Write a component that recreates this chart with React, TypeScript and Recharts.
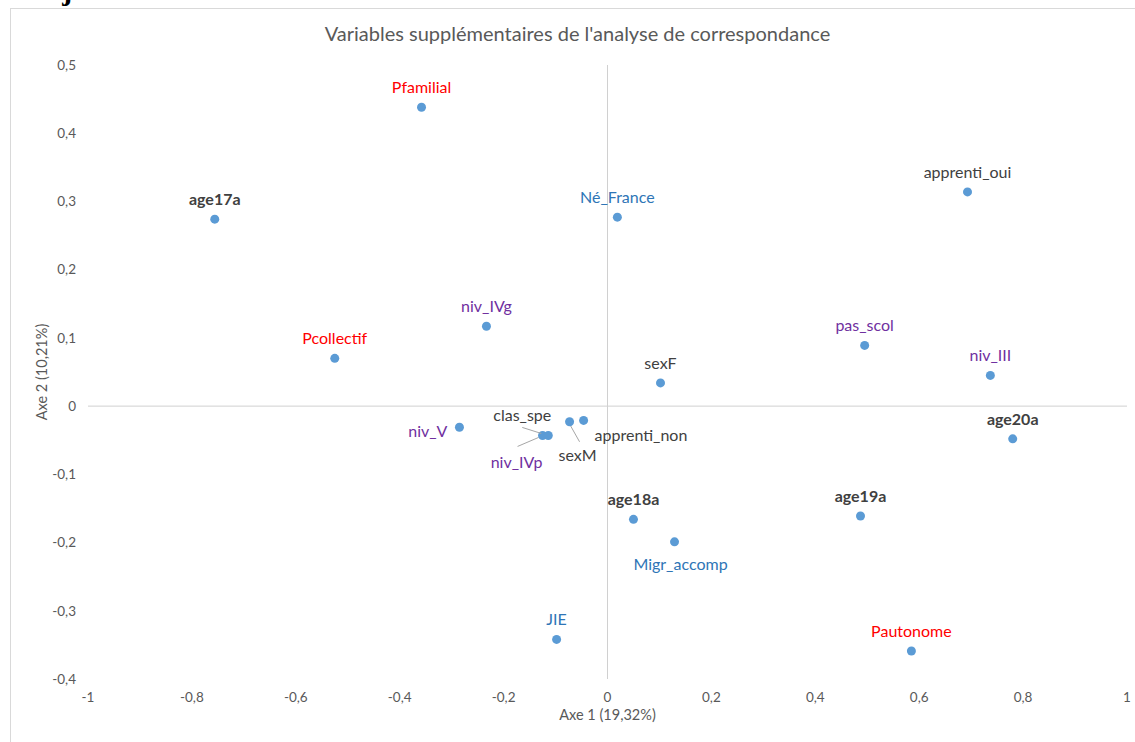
import React from 'react';
import { ScatterChart, Scatter, XAxis, YAxis, ReferenceLine, Label } from 'recharts';

// modalités supplémentaires (coordonnées sur les axes 1 et 2)
const names = [
  'Pfamilial', 'age17a', 'Né_France', 'apprenti_oui', 'niv_IVg', 'Pcollectif',
  'pas_scol', 'niv_III', 'sexF', 'niv_V', 'niv_IVp', 'clas_spe', 'sexM',
  'apprenti_non', 'age20a', 'age18a', 'age19a', 'Migr_accomp', 'JIE', 'Pautonome',
];
const axe1 = [
  -0.358, -0.756, 0.019, 0.693, -0.233, -0.525,
  0.495, 0.737, 0.102, -0.285, -0.125, -0.114, -0.073,
  -0.046, 0.78, 0.05, 0.487, 0.129, -0.098, 0.585,
];
const axe2 = [
  0.438, 0.274, 0.277, 0.314, 0.117, 0.07,
  0.089, 0.045, 0.034, -0.031, -0.043, -0.043, -0.023,
  -0.021, -0.048, -0.166, -0.161, -0.199, -0.342, -0.359,
];
const groupes = [
  'placement', 'age', 'origine', 'autre', 'niveau', 'placement',
  'niveau', 'niveau', 'autre', 'niveau', 'niveau', 'autre', 'autre',
  'autre', 'age', 'age', 'age', 'origine', 'origine', 'placement',
];

const xTicks = [-1, -0.8, -0.6, -0.4, -0.2, 0, 0.2, 0.4, 0.6, 0.8, 1];
const yTicks = [-0.4, -0.3, -0.2, -0.1, 0, 0.1, 0.2, 0.3, 0.4, 0.5];

const data = names.map((name, i) => ({ name, x: axe1[i], y: axe2[i], groupe: groupes[i] }));

const couleurs: Record<string, string> = {
  placement: '#ff0000',
  origine: '#2e75b6',
  niveau: '#7030a0',
  autre: '#404040',
  age: '#404040',
};

type Place = { dx: number; dy: number; anchor?: 'start' | 'middle' | 'end'; leader?: number[] };
const above: Place = { dx: 0, dy: -14 };
const placements: Record<string, Place> = {
  niv_V: { dx: -12, dy: 10, anchor: 'end' },
  clas_spe: { dx: -26, dy: -14, leader: [-26, -8, -7, -2] },
  niv_IVp: { dx: -26, dy: 33, leader: [-25, 11, -4, 2] },
  sexM: { dx: 8, dy: 39, leader: [10, 20, 1, 4] },
  apprenti_non: { dx: 11, dy: 21, anchor: 'start' },
  Migr_accomp: { dx: 6, dy: 28 },
};

const fmt = (v: number) => String(Number(v.toFixed(1))).replace('.', ',').replace(/^-0$/, '0');

const font = 'Lato, Carlito, Calibri, sans-serif';

const Point = (props: any) => {
  const { cx, cy, payload } = props;
  const p = placements[payload.name] ?? above;
  const bold = payload.groupe === 'age';
  return (
    <g>
      {p.leader && (
        <line
          x1={cx + p.leader[0]} y1={cy + p.leader[1]}
          x2={cx + p.leader[2]} y2={cy + p.leader[3]}
          stroke="#a6a6a6" strokeWidth={1}
        />
      )}
      <circle cx={cx} cy={cy} r={4.5} fill="#5b9bd5" />
      <text
        x={cx + p.dx}
        y={cy + p.dy}
        textAnchor={p.anchor ?? 'middle'}
        fill={couleurs[payload.groupe]}
        fontWeight={bold ? 700 : 400}
        fontSize={16}
        fontFamily={font}
      >
        {payload.name}
      </text>
    </g>
  );
};

export default function App() {
  return (
    <div style={{ position: 'absolute', left: 0, top: 0, width: 1135, height: 742, overflow: 'hidden', background: '#fff' }}>
      <svg width={300} height={12} style={{ position: 'absolute', left: 0, top: 0 }}>
        <text x={13} y={0} fontFamily="'Liberation Serif', serif" fontWeight={700} fontSize={30} fill="#000">
          des jeunes
        </text>
      </svg>
      <div style={{ position: 'absolute', left: 10, top: 8, width: 1140, height: 760, border: '1px solid #d9d9d9' }} />
      <div
        style={{
          position: 'absolute', left: 0, top: 21, width: 1155, textAlign: 'center',
          fontFamily: font, fontSize: 20, color: '#595959',
        }}
      >
        Variables supplémentaires de l'analyse de correspondance
      </div>
      <div style={{ position: 'absolute', left: 0, top: 0 }}>
        <ScatterChart width={1135} height={742} margin={{ top: 65, right: 8, left: 38, bottom: 33 }}>
          <XAxis
            type="number" dataKey="x" domain={[-1, 1]} ticks={xTicks} tickFormatter={fmt}
            axisLine={false} tickLine={false} tickSize={6} tickMargin={7} height={30}
            tick={{ fill: '#595959', fontSize: 13.5, fontFamily: font }}
          >
            <Label value="Axe 1 (19,32%)" position="bottom" offset={1} fill="#595959" fontSize={14.5} fontFamily={font} />
          </XAxis>
          <YAxis
            type="number" dataKey="y" domain={[-0.4, 0.5]} ticks={yTicks} tickFormatter={fmt}
            axisLine={false} tickLine={false} tickSize={6} tickMargin={6} width={50}
            tick={{ fill: '#595959', fontSize: 13.5, fontFamily: font }}
          >
            <Label
              value="Axe 2 (10,21%)" angle={-90} position="insideLeft" offset={4}
              fill="#595959" fontSize={14.5} fontFamily={font} style={{ textAnchor: 'middle' }}
            />
          </YAxis>
          <ReferenceLine x={0} stroke="#d0d0d0" strokeWidth={1} />
          <ReferenceLine y={0} stroke="#d0d0d0" strokeWidth={1} />
          <Scatter data={data} shape={<Point />} isAnimationActive={false} />
        </ScatterChart>
      </div>
    </div>
  );
}
